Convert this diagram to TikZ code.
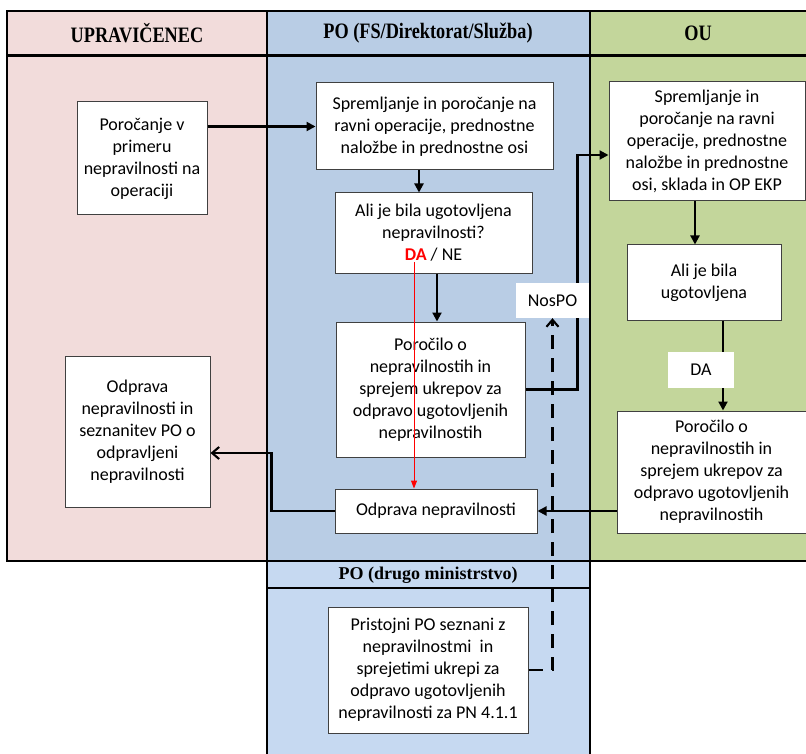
\documentclass[tikz,border=0pt]{standalone}
\usepackage{fontspec}
\setmainfont{Carlito}
\newfontfamily\headfont[FakeStretch=0.83]{Liberation Serif}
\newfontfamily\subheadfont{Liberation Serif}
\usetikzlibrary{arrows.meta,calc}
\definecolor{upravlane}{RGB}{242,220,219}
\definecolor{polane}{RGB}{185,205,229}
\definecolor{oulane}{RGB}{195,214,155}
\definecolor{drugolane}{RGB}{198,217,241}
\definecolor{boxline}{RGB}{64,64,64}
\tikzset{
  laneline/.style={line width=2.2pt,black},
  lanehead/.style={font=\headfont\bfseries\fontsize{22}{24}\selectfont,inner sep=0pt},
  subhead/.style={font=\subheadfont\bfseries\fontsize{18}{20}\selectfont,inner sep=0pt},
  procbox/.style={draw=boxline,line width=1pt,fill=white,align=center,inner sep=2pt,font=\fontsize{18}{22}\selectfont},
  tagbox/.style={fill=white,inner sep=0pt,font=\fontsize{18}{22}\selectfont},
  flow/.style={line width=2.1pt,-{Triangle[length=9pt,width=9pt]}},
  backflow/.style={line width=2.1pt,-{Straight Barb[length=7pt,width=12pt]}},
  dashflow/.style={line width=2.1pt,dash pattern=on 14pt off 9pt,-{Straight Barb[length=7pt,width=12pt]}},
  daflow/.style={line width=1pt,red,-{Triangle[length=8pt,width=6pt]}}
}
\begin{document}
\begin{tikzpicture}[x={(1pt,0pt)},y={(0pt,-1pt)}]
  \useasboundingbox (0,0) rectangle (806,754);
  \fill[white] (0,0) rectangle (806,754);
  % lanes
  \fill[upravlane] (7,11) rectangle (267,561);
  \fill[polane] (267,11) rectangle (590,561);
  \fill[oulane] (590,11) rectangle (806,561);
  \fill[drugolane] (267,561) rectangle (590,754);
  \draw[laneline] (806,11) -- (7,11) -- (7,561) -- (806,561);
  \draw[laneline,line width=3.2pt] (7,55.2) -- (806,55.2);
  \draw[laneline] (267,11) -- (267,754) (590,11) -- (590,754) (267,588) -- (590,588);
  \node[lanehead] (hupr) at (137,33) {UPRAVIČENEC};
  \node[lanehead] (hpo) at (428,33) {PO (FS/Direktorat/Služba)};
  \node[lanehead] (hou) at (698,33) {OU};
  \node[subhead] (hdrugo) at (428,575) {PO (drugo ministrstvo)};
  % boxes
  \node[procbox,minimum width=130pt,minimum height=113pt] (up1) at (142,158.5) {Poročanje v\\primeru\\nepravilnosti na\\operaciji};
  \node[procbox,minimum width=145pt,minimum height=151pt] (up2) at (137.5,431.5) {Odprava\\nepravilnosti in\\seznanitev PO o\\odpravljeni\\nepravilnosti};
  \node[procbox,minimum width=237pt,minimum height=87pt] (po1) at (434.5,126.5) {Spremljanje in poročanje na\\ravni operacije, prednostne\\naložbe in prednostne osi};
  \node[procbox,minimum width=197pt,minimum height=80pt] (po2) at (433.5,233) {Ali je bila ugotovljena\\nepravilnosti?\\{\color{red}\bfseries DA} / NE};
  \node[procbox,minimum width=189pt,minimum height=135pt] (po3) at (430.5,389.5) {Poročilo o\\nepravilnostih in\\sprejem ukrepov za\\odpravo ugotovljenih\\nepravilnostih};
  \node[procbox,minimum width=202pt,minimum height=44pt] (po4) at (436,511) {Odprava nepravilnosti};
  \node[procbox,minimum width=196pt,minimum height=119pt] (ou1) at (707,141.5) {Spremljanje in\\poročanje na ravni\\operacije, prednostne\\naložbe in prednostne\\osi, sklada in OP EKP};
  \node[procbox,minimum width=154pt,minimum height=75pt] (ou2) at (704,282.5) {Ali je bila\\ugotovljena};
  \node[procbox,minimum width=189pt,minimum height=122pt] (ou3) at (711.5,472) {Poročilo o\\nepravilnostih in\\sprejem ukrepov za\\odpravo ugotovljenih\\nepravilnostih};
  \node[procbox,minimum width=200pt,minimum height=126pt] (pd1) at (428,670) {Pristojni PO seznani z\\nepravilnostmi~ in\\sprejetimi ukrepi za\\odpravo ugotovljenih\\nepravilnosti za PN 4.1.1};
  \coordinate (dapt) at (414,262);
  % connectors
  \draw[flow] (up1.east |- po1.west) -- (po1.west);
  \draw[flow] ([xshift=-15.5pt]po1.south) -- ([xshift=-15.5pt]po1.south |- po2.north);
  \draw[flow] ([xshift=3.5pt]po2.south) -- ([xshift=3.5pt]po2.south |- po3.north);
  \draw[daflow] (dapt) -- (dapt |- po4.north);
  \draw[flow] (po3.east) -- ++(52,0) |- ([yshift=-13.5pt]ou1.west);
  \draw[flow] ([xshift=-12pt]ou1.south) -- ([xshift=-12pt]ou1.south |- ou2.north);
  \draw[flow] ([xshift=19pt]ou2.south) -- ([xshift=19pt]ou2.south |- ou3.north);
  \draw[flow] (ou3.west |- po4.east) -- (po4.east);
  \draw[backflow] (po4.west) -- ++(-63,0) |- ([yshift=-21.5pt]up2.east);
  \node[tagbox,minimum width=73pt,minimum height=35pt] (nospo) at (552.5,300.5) {NosPO};
  \node[tagbox,minimum width=66pt,minimum height=36pt] (datag) at (701,370) {DA};
  \draw[dashflow] (pd1.east) -| (nospo.south);
\end{tikzpicture}
\end{document}
